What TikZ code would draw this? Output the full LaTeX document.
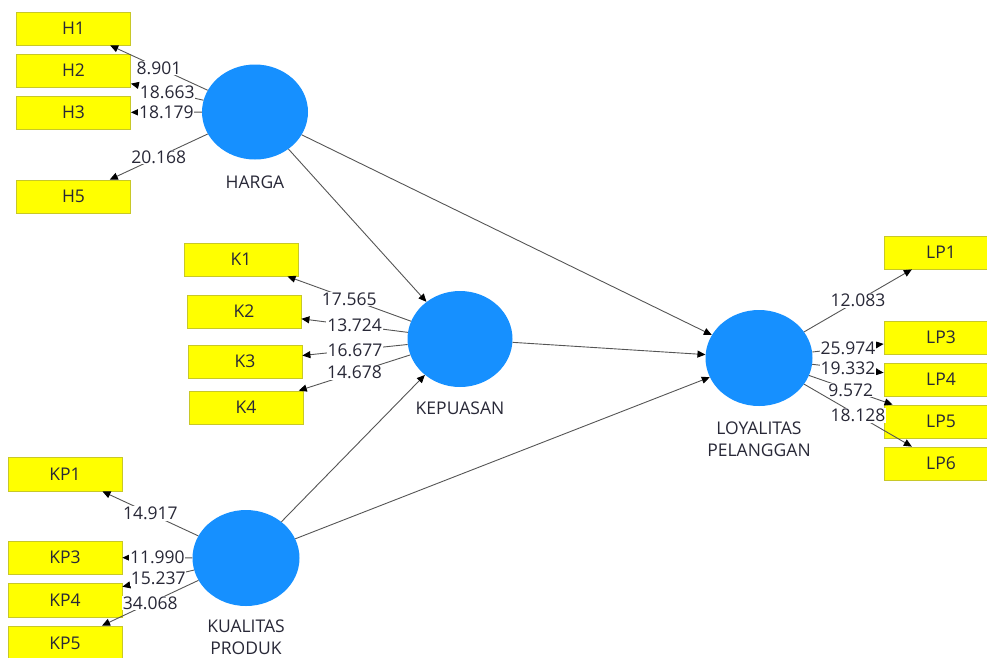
\documentclass[tikz,border=0pt]{standalone}
\usepackage{fontspec}
\setmainfont{Open Sans}
\usetikzlibrary{shapes.geometric,arrows.meta}
\definecolor{lvblue}{RGB}{22,144,255}
\definecolor{mvyellow}{RGB}{255,255,0}
\definecolor{mvborder}{RGB}{200,200,40}
\definecolor{linegray}{RGB}{85,85,85}
\definecolor{txt}{RGB}{40,40,55}
\begin{document}
\begin{tikzpicture}[x=1pt,y=-1pt,
  mv/.style={rectangle,draw=mvborder,line width=0.8pt,fill=mvyellow,minimum width=114pt,minimum height=33pt,inner sep=0pt,font=\fontsize{17.5}{20}\selectfont,text=txt},
  lv/.style={ellipse,fill=lvblue,minimum width=107pt,minimum height=96pt,inner sep=0pt},
  lvlabel/.style={font=\fontsize{17.5}{22}\selectfont,text=txt,align=center,inner sep=0pt},
  conn/.style={draw=linegray,line width=0.9pt,-{Triangle[length=8pt,width=7pt,color=black]}},
  lab/.style={fill=white,inner sep=0.8pt,font=\fontsize{17.5}{20}\selectfont,text=txt}]
\useasboundingbox (0,0) rectangle (987,657);
\clip (0,0) rectangle (987,657);
% indicators
\node[mv] (h1) at (73.5,28.5) {H1};
\node[mv] (h2) at (73.5,70.5) {H2};
\node[mv] (h3) at (73.5,112.5) {H3};
\node[mv] (h5) at (73.5,196.5) {H5};
\node[mv] (k1) at (241,259.5) {K1};
\node[mv] (k2) at (244,311.5) {K2};
\node[mv] (k3) at (245,361.5) {K3};
\node[mv] (k4) at (246,407.5) {K4};
\node[mv,minimum height=34pt] (kp1) at (65,474) {KP1};
\node[mv] (kp3) at (65,557.5) {KP3};
\node[mv,minimum height=34pt] (kp4) at (65,600) {KP4};
\node[mv,minimum height=34pt] (kp5) at (65,643) {KP5};
\node[mv] (lp1) at (941,252.5) {LP1};
\node[mv] (lp3) at (941,337.5) {LP3};
\node[mv] (lp4) at (941,379.5) {LP4};
\node[mv] (lp5) at (941,421.5) {LP5};
\node[mv] (lp6) at (941,463.5) {LP6};
% latent variables
\node[lv,minimum width=106pt,minimum height=95pt] (harga) at (255,112) {};
\node[lv,minimum width=105pt] (kep) at (460,339) {};
\node[lv] (kual) at (246,558) {};
\node[lv] (loy) at (759,358) {};
\node[lvlabel] (hargalab) at (255,182) {HARGA};
\node[lvlabel] (keplab) at (460,408) {KEPUASAN};
\node[lvlabel] (kuallab) at (246,637) {KUALITAS\\PRODUK};
\node[lvlabel] (loylab) at (759,439) {LOYALITAS\\PELANGGAN};
% structural paths
\draw[conn] (harga) -- (kep);
\draw[conn] (harga) -- (loy);
\draw[conn] (kep) -- (loy);
\draw[conn] (kual) -- (kep);
\draw[conn] (kual) -- (loy);
% outer loadings
\draw[conn] (harga) -- node[lab] {8.901} (h1);
\draw[conn] (harga) -- node[lab] {18.663} (h2);
\draw[conn] (harga) -- node[lab] {18.179} (h3);
\draw[conn] (harga) -- node[lab] {20.168} (h5);
\draw[conn] (kep) -- node[lab] {17.565} (k1);
\draw[conn] (kep) -- node[lab] {13.724} (k2);
\draw[conn] (kep) -- node[lab] {16.677} (k3);
\draw[conn] (kep) -- node[lab] {14.678} (k4);
\draw[conn] (kual) -- node[lab] {14.917} (kp1);
\draw[conn] (kual) -- node[lab] {11.990} (kp3);
\draw[conn] (kual) -- node[lab] {15.237} (kp4);
\draw[conn] (kual) -- node[lab] {34.068} (kp5);
\draw[conn] (loy) -- node[lab] {12.083} (lp1);
\draw[conn] (loy) -- node[lab] {25.974} (lp3);
\draw[conn] (loy) -- node[lab] {19.332} (lp4);
\draw[conn] (loy) -- node[lab] {9.572} (lp5);
\draw[conn] (loy) -- node[lab] {18.128} (lp6);
\end{tikzpicture}
\end{document}
